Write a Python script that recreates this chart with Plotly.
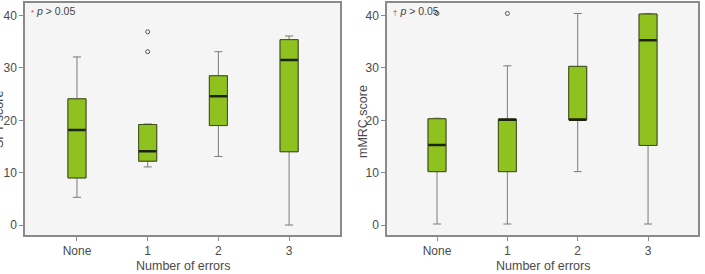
import plotly.graph_objects as go

categories = ["None", "1", "2", "3"]
cat_pos = [0, 1, 2, 3]

# Left panel (SFT score)
sft_lower = [5.3, 11.1, 13.1, 0.0]
sft_q1 = [9.0, 12.2, 19.0, 14.0]
sft_median = [18.15, 14.1, 24.6, 31.5]
sft_q3 = [24.1, 19.2, 28.5, 35.4]
sft_upper = [32.1, 19.3, 33.1, 36.1]
sft_out_x = ["1", "1"]
sft_out_y = [33.1, 36.9]

# Right panel (mMRC score)
mmrc_lower = [0.2, 0.2, 10.2, 0.2]
mmrc_q1 = [10.2, 10.2, 20.1, 15.2]
mmrc_median = [15.3, 20.1, 20.1, 35.3]
mmrc_q3 = [20.3, 20.25, 30.3, 40.3]
mmrc_upper = [20.4, 30.4, 40.4, 40.4]
mmrc_out_x = ["None", "1"]
mmrc_out_y = [40.4, 40.4]

y_ticks = [0, 10, 20, 30, 40]

FILL = "#8fc21f"
EDGE = "#3f4c1c"
WHISK = "#7a7a7a"
MED = "#1c2410"
FONT = "Liberation Sans, Arial, sans-serif"

fig = go.Figure()
bw = 0.255


def add_panel(xa, ya, lower, q1, med, q3, upper, ox, oy):
    # whiskers
    fig.add_trace(go.Box(x=cat_pos, q1=q1, median=med, q3=q3,
                         lowerfence=lower, upperfence=upper,
                         width=bw, whiskerwidth=0.45,
                         fillcolor=FILL, line=dict(color=WHISK, width=1),
                         xaxis=xa, yaxis=ya, showlegend=False, hoverinfo="skip"))
    # box body
    fig.add_trace(go.Box(x=cat_pos, q1=q1, median=med, q3=q3,
                         lowerfence=q1, upperfence=q3,
                         width=bw, whiskerwidth=0,
                         fillcolor=FILL, line=dict(color=EDGE, width=1),
                         xaxis=xa, yaxis=ya, showlegend=False, hoverinfo="skip"))
    # thick median
    fig.add_trace(go.Box(x=cat_pos, q1=med, median=med, q3=med,
                         lowerfence=med, upperfence=med,
                         width=bw * 0.97, whiskerwidth=0,
                         fillcolor=MED, line=dict(color=MED, width=2.5),
                         xaxis=xa, yaxis=ya, showlegend=False, hoverinfo="skip"))
    fig.add_trace(go.Scatter(x=[cat_pos[categories.index(c)] for c in ox], y=oy,
                             mode="markers",
                             marker=dict(symbol="circle-open", size=4,
                                         color="#555", line=dict(width=1)),
                             xaxis=xa, yaxis=ya, showlegend=False, hoverinfo="skip"))


add_panel("x", "y", sft_lower, sft_q1, sft_median, sft_q3, sft_upper, sft_out_x, sft_out_y)
add_panel("x2", "y2", mmrc_lower, mmrc_q1, mmrc_median, mmrc_q3, mmrc_upper, mmrc_out_x, mmrc_out_y)

W, H = 705, 274
ydom = [1 - 235 / H, 1 - 3 / H]

axis_common = dict(showline=True, linecolor="#8a8a8a", linewidth=1.5, mirror=True,
                   ticks="outside", ticklen=4, tickcolor="#8a8a8a",
                   showgrid=False, zeroline=False,
                   tickfont=dict(family=FONT, size=12, color="#4a4a4a"))

fig.update_layout(
    width=W, height=H,
    margin=dict(l=0, r=0, t=0, b=0),
    paper_bgcolor="white",
    plot_bgcolor="#f5f5f5",
    xaxis=dict(domain=[25 / W, 340 / W], range=[-0.735, 3.72],
               tickvals=cat_pos, ticktext=categories, ticklabelstandoff=0, **axis_common),
    yaxis=dict(domain=ydom, range=[-1.9, 42.4], tickvals=y_ticks, **axis_common),
    xaxis2=dict(domain=[387 / W, 698 / W], range=[-0.711, 3.71],
                tickvals=cat_pos, ticktext=categories, anchor="y2", ticklabelstandoff=0,
                **axis_common),
    yaxis2=dict(domain=ydom, range=[-1.9, 42.4], tickvals=y_ticks, anchor="x2", **axis_common),
    boxgap=0,
)

tfont = dict(family=FONT, size=12.5, color="#4a4a4a")
ann = [
    dict(text="Number of errors", x=(25 + 340) / 2 / W, y=1 - 266 / H),
    dict(text="Number of errors", x=(387 + 698) / 2 / W, y=1 - 266 / H),
    dict(text="mMRC score", x=363 / W, y=1 - 122 / H, textangle=-90),
    dict(text="SFT score", x=-1 / W, y=1 - 120 / H, textangle=-90),
]
for a in ann:
    fig.add_annotation(xref="paper", yref="paper", showarrow=False,
                       xanchor="center", yanchor="middle", font=tfont, **a)

pfont = dict(family=FONT, size=10.5, color="#444")
fig.add_annotation(xref="paper", yref="paper", x=29 / W, y=1 - 11 / H,
                   xanchor="left", yanchor="middle", showarrow=False, font=pfont,
                   text="<span style='color:#e0305a;font-size:8px'>*</span> <i>p</i> > 0.05")
fig.add_annotation(xref="paper", yref="paper", x=391 / W, y=1 - 11 / H,
                   xanchor="left", yanchor="middle", showarrow=False, font=pfont,
                   text="<span style='color:#e0305a;font-size:8px'>†</span> <i>p</i> > 0.05")

fig.write_html("out.html")
